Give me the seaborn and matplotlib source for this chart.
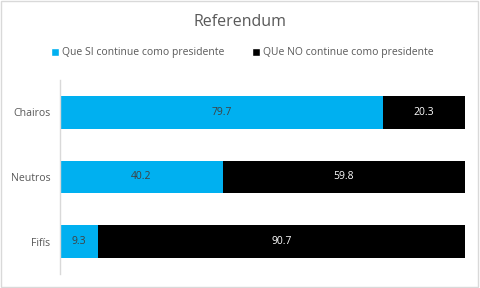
import matplotlib
matplotlib.use('Agg')
import matplotlib.pyplot as plt
import pandas as pd
import seaborn as sns
from matplotlib.patches import Patch

categories = ['Chairos', 'Neutros', 'Fifís']
si_values = [79.7, 40.2, 9.3]
no_values = [20.3, 59.8, 90.7]
series_names = ['Que SI continue como presidente', 'QUe NO continue como presidente']

blue = '#00B0F0'
gray_text = '#595959'

sns.set_theme(style='white')
plt.rcParams['font.family'] = ['Open Sans', 'DejaVu Sans']

df = pd.DataFrame({'grupo': categories, 'si': si_values, 'no': no_values})
df['total'] = df['si'] + df['no']

fig = plt.figure(figsize=(4.8, 2.88), dpi=100)
ax = fig.add_axes([60 / 480, 1 - 274 / 288, 405 / 480, 194 / 288])

# stacked: draw total in black, then the SI part in blue on top
sns.barplot(data=df, y='grupo', x='total', color='black', width=0.51,
            orient='h', ax=ax, saturation=1, linewidth=0)
sns.barplot(data=df, y='grupo', x='si', color=blue, width=0.51,
            orient='h', ax=ax, saturation=1, linewidth=0)

for i, row in df.iterrows():
    ax.text(row['si'] / 2, i, f"{row['si']:.1f}", ha='center', va='center',
            fontsize=7.5, color='#404040')
    ax.text(row['si'] + row['no'] / 2, i, f"{row['no']:.1f}", ha='center',
            va='center', fontsize=7.5, color='white')

ax.set_xlim(0, 100)
ax.set_ylim(2.5, -0.5)
ax.set_xlabel('')
ax.set_ylabel('')
ax.set_xticks([])
ax.tick_params(axis='y', length=0, labelsize=7.6, labelcolor=gray_text, pad=7)
for side in ['top', 'right', 'bottom']:
    ax.spines[side].set_visible(False)
ax.spines['left'].set_color('#d9d9d9')
ax.spines['left'].set_linewidth(1)

fig.text(0.5, 1 - 22 / 288, 'Referendum', ha='center', va='center',
         fontsize=11.5, color=gray_text)

handles = [Patch(facecolor=blue), Patch(facecolor='black')]
fig.legend(handles, series_names, loc='center', bbox_to_anchor=(0.505, 1 - 53 / 288),
           ncol=2, frameon=False, fontsize=7.5, labelcolor=gray_text,
           handlelength=0.75, handleheight=0.75, handletextpad=0.35, columnspacing=2.6)

# light border around the chart
fig.patches.append(plt.Rectangle((0.002, 0.003), 0.994, 0.993, transform=fig.transFigure,
                                 fill=False, edgecolor='#d9d9d9', linewidth=1))

fig.savefig('out.png', dpi=100)
